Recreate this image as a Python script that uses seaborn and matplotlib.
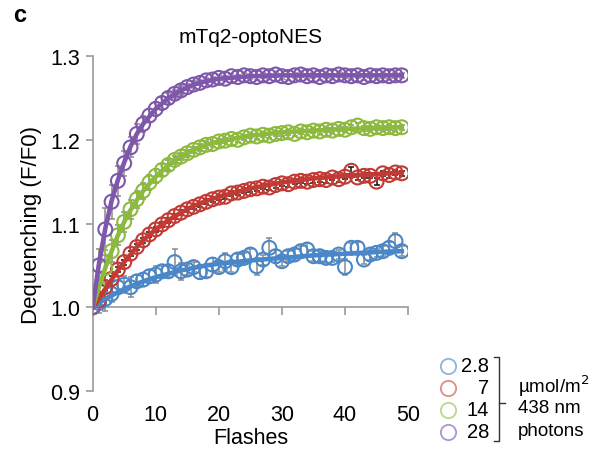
import numpy as np
import pandas as pd
import matplotlib
matplotlib.use("Agg")
import matplotlib.pyplot as plt
import seaborn as sns

# flash number for every measured point
flashes = list(range(50))

# measured dequenching (F/F0) per light dose
dq_28 = [1.000, 1.050, 1.093, 1.126, 1.151, 1.172, 1.191, 1.207, 1.219, 1.229,
         1.237, 1.244, 1.250, 1.255, 1.259, 1.263, 1.266, 1.268, 1.271, 1.272,
         1.274, 1.273, 1.276, 1.275, 1.277, 1.276, 1.275, 1.277, 1.276, 1.278,
         1.276, 1.275, 1.277, 1.278, 1.276, 1.277, 1.275, 1.277, 1.276, 1.278,
         1.277, 1.276, 1.277, 1.275, 1.277, 1.276, 1.277, 1.276, 1.277, 1.277]
dq_14 = [1.000, 1.022, 1.047, 1.067, 1.086, 1.102, 1.117, 1.129, 1.139, 1.149,
         1.157, 1.164, 1.170, 1.176, 1.180, 1.184, 1.188, 1.191, 1.194, 1.195,
         1.198, 1.199, 1.201, 1.200, 1.203, 1.205, 1.204, 1.206, 1.205, 1.207,
         1.208, 1.209, 1.207, 1.210, 1.209, 1.211, 1.210, 1.212, 1.211, 1.213,
         1.212, 1.215, 1.217, 1.214, 1.213, 1.215, 1.214, 1.215, 1.214, 1.215]
dq_7 = [1.000, 1.008, 1.024, 1.034, 1.045, 1.054, 1.064, 1.072, 1.080, 1.087,
        1.093, 1.099, 1.104, 1.109, 1.113, 1.117, 1.120, 1.123, 1.126, 1.129,
        1.131, 1.132, 1.136, 1.137, 1.139, 1.141, 1.142, 1.144, 1.143, 1.146,
        1.148, 1.147, 1.150, 1.151, 1.150, 1.152, 1.153, 1.152, 1.155, 1.153,
        1.156, 1.163, 1.155, 1.157, 1.157, 1.150, 1.160, 1.158, 1.161, 1.160]
dq_2_8 = [1.000, 1.005, 1.010, 1.016, 1.024, 1.027, 1.024, 1.031, 1.033, 1.037,
          1.039, 1.043, 1.043, 1.054, 1.043, 1.045, 1.048, 1.042, 1.043, 1.051,
          1.048, 1.055, 1.048, 1.057, 1.059, 1.063, 1.049, 1.057, 1.071, 1.061,
          1.055, 1.061, 1.063, 1.067, 1.069, 1.061, 1.061, 1.059, 1.059, 1.063,
          1.048, 1.071, 1.071, 1.057, 1.063, 1.065, 1.067, 1.071, 1.079, 1.067]

# error bars
err_28 = [0, .020, .025, .020, .018, .015, .012, .012, .010, .008,
          .008, .007, .006, .005, .005, .004, .004, .003, .003, .003,
          .003, .003, .003, .003, .003, .003, .003, .003, .003, .003,
          .003, .003, .003, .003, .003, .003, .003, .003, .003, .003,
          .003, .003, .003, .003, .003, .003, .003, .003, .003, .003]
err_14 = [0, .012, .015, .013, .012, .012, .011, .010, .010, .009,
          .008, .007, .006, .005, .004, .004, .004, .004, .004, .004,
          .003, .003, .003, .003, .003, .003, .003, .003, .003, .003,
          .003, .003, .003, .003, .003, .003, .003, .003, .003, .003,
          .003, .003, .003, .003, .003, .003, .003, .003, .003, .003]
err_7 = [0, .004, .003, .003, .003, .003, .003, .003, .003, .003,
         .003, .003, .003, .003, .003, .003, .003, .003, .003, .003,
         .003, .003, .003, .003, .003, .003, .003, .003, .003, .003,
         .003, .003, .003, .003, .003, .003, .003, .003, .003, .003,
         .003, .004, .003, .003, .003, .004, .003, .003, .003, .003]
err_2_8 = [0, .012, .015, .010, .008, .010, .012, .007, .008, .008,
           .010, .006, .007, .016, .010, .006, .006, .008, .007, .008,
           .006, .010, .006, .007, .006, .007, .010, .006, .012, .008,
           .006, .006, .007, .006, .008, .006, .006, .006, .005, .005,
           .010, .006, .007, .005, .006, .005, .006, .007, .010, .006]

# fitted curves
fit_x = [0, 1, 2, 3, 4, 5, 6, 7, 8, 10, 12, 14, 16, 18, 20, 25, 30, 35, 40, 45, 49]
fit_28 = [1.000, 1.052, 1.094, 1.127, 1.152, 1.173, 1.192, 1.207, 1.219, 1.237, 1.250,
          1.259, 1.266, 1.270, 1.273, 1.276, 1.277, 1.277, 1.277, 1.277, 1.277]
fit_14 = [1.000, 1.024, 1.047, 1.067, 1.086, 1.102, 1.116, 1.128, 1.139, 1.156, 1.170,
          1.180, 1.188, 1.194, 1.198, 1.205, 1.209, 1.211, 1.213, 1.214, 1.215]
fit_7 = [1.000, 1.010, 1.022, 1.033, 1.044, 1.054, 1.063, 1.072, 1.080, 1.093, 1.104,
         1.113, 1.121, 1.127, 1.132, 1.142, 1.149, 1.154, 1.157, 1.159, 1.161]
fit_2_8 = [1.000, 1.005, 1.010, 1.014, 1.018, 1.022, 1.025, 1.028, 1.031, 1.036, 1.040,
           1.044, 1.047, 1.050, 1.052, 1.056, 1.059, 1.062, 1.064, 1.066, 1.067]

doses = ["2.8", "7", "14", "28"]
colors = ["#4a87c9", "#c23a33", "#8cbb3c", "#7e56ab"]
legend_colors = ["#8fb3e0", "#e08c88", "#b8d88c", "#ab96cf"]
err_colors = ["#8a8a8a", "#111111", "#8a8a8a", "#8a8a8a"]

series = {"2.8": (dq_2_8, err_2_8, fit_2_8),
          "7": (dq_7, err_7, fit_7),
          "14": (dq_14, err_14, fit_14),
          "28": (dq_28, err_28, fit_28)}

plt.rcParams['font.family'] = ['Liberation Sans', 'DejaVu Sans']

fig = plt.figure(figsize=(5.94, 4.52), dpi=100)
ax = fig.add_axes([0.156, 0.1327, 0.531, 0.741])

for dose, col, ecol in zip(doses, colors, err_colors):
    vals, errs, fit = series[dose]
    df = pd.DataFrame({"Flashes": flashes, "F/F0": vals})
    ax.errorbar(flashes, vals, yerr=errs, fmt="none", ecolor=ecol,
                elinewidth=1.1, capsize=2.5, capthick=1.1, zorder=2)
    sns.scatterplot(data=df, x="Flashes", y="F/F0", ax=ax, marker="o", s=100,
                    facecolor="none", edgecolor=col, linewidth=1.5, zorder=3)
    fdf = pd.DataFrame({"Flashes": fit_x, "F/F0": fit})
    sns.lineplot(data=fdf, x="Flashes", y="F/F0", ax=ax, color=col,
                 linewidth=3.3, zorder=4)

ax.set_xlim(0, 50)
ax.set_ylim(0.9, 1.3)
ax.set_yticks([0.9, 1.0, 1.1, 1.2, 1.3])
ax.set_yticklabels(["0.9", "1.0", "1.1", "1.2", "1.3"], fontsize=15.5)
ax.set_xticks([0, 10, 20, 30, 40, 50])
ax.tick_params(axis="x", labelbottom=False, direction="out", length=6,
               width=1.2, color="#999999")
ax.tick_params(axis="y", direction="out", length=5, width=1.2, color="#999999", pad=4)
ax.spines["top"].set_visible(False)
ax.spines["right"].set_visible(False)
ax.spines["bottom"].set_position(("data", 1.0))
for s in ["left", "bottom"]:
    ax.spines[s].set_color("#999999")
    ax.spines[s].set_linewidth(1.2)
ax.set_xlabel("")
ax.set_ylabel("Dequenching (F/F0)", fontsize=16, labelpad=6)

sec = ax.secondary_xaxis(0.0)
sec.set_xticks([0, 10, 20, 30, 40, 50])
sec.set_xticklabels(["0", "10", "20", "30", "40", "50"], fontsize=15.5)
sec.tick_params(length=0, pad=9)
sec.spines["bottom"].set_visible(False)
sec.set_xlabel("Flashes", fontsize=15.5, labelpad=2)

ax.set_title("mTq2-optoNES", fontsize=15, pad=10)
fig.text(0.022, 0.965, "c", fontsize=17, fontweight="bold", va="center")

# legend drawn by hand: circles, dose numbers, bracket, unit text
leg_y = [367, 389, 411, 433]
for yy, lab, lc in zip(leg_y, doses, legend_colors):
    fy = 1 - yy / 452
    fig.lines.append(plt.Line2D([448 / 594], [fy], marker="o", ms=11,
                                mfc="none", mec=lc, mew=1.3,
                                transform=fig.transFigure))
    fig.text(489 / 594, fy, lab, fontsize=14.5, ha="right", va="center")

bx = [494 / 594, 499 / 594, 499 / 594, 494 / 594]
by = [1 - 358 / 452, 1 - 358 / 452, 1 - 442 / 452, 1 - 442 / 452]
fig.lines.append(plt.Line2D(bx, by, color="#333333", lw=1.0, transform=fig.transFigure))
fig.lines.append(plt.Line2D([499 / 594, 505 / 594], [1 - 404 / 452, 1 - 404 / 452],
                            color="#333333", lw=1.0, transform=fig.transFigure))
fig.text(518 / 594, 1 - 386 / 452, "\u00b5mol/m$^2$", fontsize=13.5, ha="left", va="center")
fig.text(518 / 594, 1 - 409 / 452, "438 nm", fontsize=13.5, ha="left", va="center")
fig.text(518 / 594, 1 - 432 / 452, "photons", fontsize=13.5, ha="left", va="center")

fig.savefig("out.png", dpi=100)
